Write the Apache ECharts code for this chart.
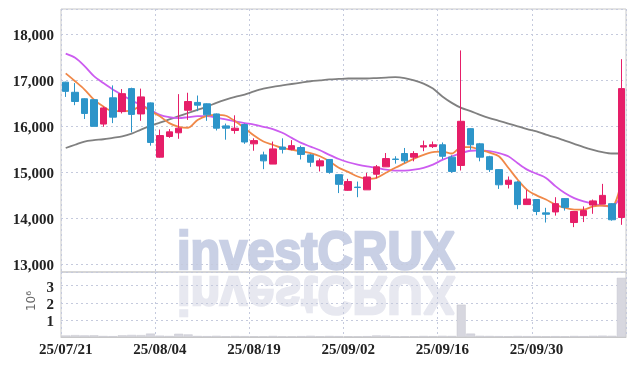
<!DOCTYPE html>
<html>
<head>
<meta charset="utf-8">
<script src="https://cdn.jsdelivr.net/npm/echarts@6/dist/echarts.min.js"></script>
<style>
  html, body { margin: 0; padding: 0; background: #fff; }
  #main { width: 634px; height: 366px; }
</style>
</head>
<body>
<div id="main"></div>
<script>
// 거래일 (일봉)
var dates = ['25/07/21','25/07/22','25/07/23','25/07/24','25/07/25','25/07/28','25/07/29','25/07/30','25/07/31','25/08/01',
  '25/08/04','25/08/05','25/08/06','25/08/07','25/08/08','25/08/11','25/08/12','25/08/13','25/08/14','25/08/18',
  '25/08/19','25/08/20','25/08/21','25/08/22','25/08/25','25/08/26','25/08/27','25/08/28','25/08/29','25/09/01',
  '25/09/02','25/09/03','25/09/04','25/09/05','25/09/08','25/09/09','25/09/10','25/09/11','25/09/12','25/09/15',
  '25/09/16','25/09/17','25/09/18','25/09/19','25/09/22','25/09/23','25/09/24','25/09/25','25/09/26','25/09/29',
  '25/09/30','25/10/01','25/10/02','25/10/10','25/10/13','25/10/14','25/10/15','25/10/16','25/10/17','25/10/20'];

var openP  = [16950,16730,16590,16570,16040,16610,16310,16810,16260,16500,15320,15770,15850,16340,16510,16480,16260,16000,15900,16030,
  15610,15370,15170,15540,15490,15530,15370,15130,15270,14940,14600,14670,14610,14950,15110,15280,15400,15320,15540,15550,
  15590,15320,15140,15940,15610,15330,15050,14730,14780,14290,14400,14110,14130,14420,13900,14050,14280,14300,14310,14010];
var closeP = [16750,16530,16270,15990,16390,16190,16700,16250,16630,15640,15790,15870,15950,16530,16450,16240,15950,15950,15950,15650,
  15680,15240,15500,15490,15570,15380,15210,15240,14990,14730,14790,14660,14890,15110,15290,15270,15240,15400,15570,15590,
  15340,15010,16100,15590,15320,15050,14720,14820,14290,14410,14140,14080,14310,14230,14140,14160,14370,14490,13960,16810];
var lowP   = [16630,16450,16150,15990,15980,16060,16270,15860,16110,15570,15310,15740,15720,16130,16320,16110,15900,15700,15830,15610,
  15460,15060,15170,15400,15470,15270,15110,15010,14960,14540,14590,14450,14610,14860,15110,15180,15190,15230,15450,15520,
  15280,14980,15030,15480,15230,15000,14630,14640,14190,14290,14060,13900,14050,14160,13800,13910,14090,14300,13940,13850];
var highP  = [16960,16930,16600,16570,16420,16880,16800,16830,16810,16510,15920,15930,16690,16720,16660,16490,16270,16050,16230,16050,
  15730,15440,15660,15730,15690,15570,15390,15290,15280,14950,14850,14790,14980,15150,15410,15340,15520,15450,15680,15660,
  15640,15360,17640,15950,15630,15350,15060,14900,14800,14610,14400,14220,14450,14430,14150,14250,14400,14740,14320,17450];

var volume = [90000,110000,95000,100000,60000,50000,100000,120000,110000,200000,80000,60000,190000,150000,60000,50000,70000,40000,60000,50000,
  40000,30000,60000,30000,30000,50000,70000,40000,60000,50000,40000,30000,50000,90000,80000,30000,40000,40000,60000,50000,
  70000,60000,1890000,200000,70000,60000,50000,40000,60000,50000,50000,40000,50000,40000,60000,50000,70000,80000,70000,3460000];

// 이동평균선
var ma5  = [17140,16970,16790,16570,16420,16320,16320,16330,16440,16320,16210,16060,15980,15960,16130,16220,16240,16220,16100,15950,
  15790,15660,15590,15520,15480,15450,15410,15340,15230,15090,15000,14900,14850,14870,14980,15090,15190,15290,15370,15430,
  15440,15400,15540,15540,15480,15420,15340,15090,14830,14610,14490,14400,14290,14220,14180,14180,14250,14270,14250,14770];
var ma20 = [17570,17480,17300,17080,16930,16790,16670,16550,16460,16350,16240,16190,16170,16190,16210,16210,16180,16140,16100,16060,
  16030,15980,15930,15850,15740,15630,15550,15470,15370,15280,15210,15160,15120,15090,15050,15030,15030,15050,15090,15160,
  15260,15340,15410,15460,15470,15450,15410,15340,15190,15050,14960,14870,14690,14540,14430,14360,14310,14270,14250,14490];
var ma60 = [15520,15590,15660,15690,15710,15740,15770,15830,15920,16000,16070,16140,16210,16280,16350,16420,16500,16570,16630,16680,
  16750,16810,16850,16880,16910,16940,16970,16990,17010,17020,17030,17030,17030,17040,17050,17060,17040,16990,16920,16810,
  16640,16500,16390,16320,16240,16170,16110,16050,15990,15930,15880,15810,15750,15680,15610,15540,15480,15430,15400,15400];

var upColor = '#e61e68';
var downColor = '#2d95c9';
var gridLine = { show: true, lineStyle: { color: '#c5cadd', type: [2, 3], width: 1 } };
var labelFont = { fontFamily: 'Liberation Sans Narrow', fontWeight: 'bold', fontSize: 15, color: '#222' };
// y축 라벨을 격자선보다 살짝 아래로
var yRich = { p: { fontFamily: 'Liberation Sans Narrow', fontWeight: 'bold', fontSize: 15, color: '#222', padding: [5, 0, 0, 0] } };

var kdata = [];
for (var i = 0; i < dates.length; i++) {
  kdata.push([openP[i], closeP[i], lowP[i], highP[i]]);
}

var chart = echarts.init(document.getElementById('main'));

var option = {
  animation: false,
  backgroundColor: '#fff',
  grid: [
    { left: 61, right: 8, top: 9, height: 263, show: true, borderColor: '#c8c8c8', borderWidth: 1 },
    { left: 61, right: 8, top: 272, height: 65, show: true, borderColor: '#c8c8c8', borderWidth: 1 }
  ],
  xAxis: [
    {
      type: 'category', gridIndex: 0, data: dates, boundaryGap: true,
      axisLine: { show: false }, axisTick: { show: false }, axisLabel: { show: false },
      splitLine: { show: true, interval: 9, lineStyle: gridLine.lineStyle }
    },
    {
      type: 'category', gridIndex: 1, data: dates, boundaryGap: true,
      axisLine: { show: true, lineStyle: { color: '#c8c8c8' } }, axisTick: { show: false },
      axisLabel: Object.assign({ interval: 9, margin: 6 }, labelFont),
      splitLine: { show: true, interval: 9, lineStyle: gridLine.lineStyle }
    }
  ],
  yAxis: [
    {
      type: 'value', gridIndex: 0, min: 12825, max: 18540, splitNumber: 5, scale: true,
      axisLine: { show: false }, axisTick: { show: false },
      axisLabel: { showMinLabel: false, showMaxLabel: false, margin: 7, rich: yRich,
        formatter: function (v) { return '{p|' + echarts.format.addCommas(v) + '}'; } },
      splitLine: gridLine
    },
    {
      type: 'value', gridIndex: 1, min: 0, max: 3800000, splitNumber: 4,
      axisLine: { show: false }, axisTick: { show: false },
      axisLabel: { showMinLabel: false, showMaxLabel: false, margin: 7, rich: yRich,
        formatter: function (v) { return '{p|' + (v / 1000000) + '}'; } },
      splitLine: gridLine
    }
  ],
  graphic: [
    // 워터마크 + 반사
    { type: 'text', x: 316, y: 281, scaleX: 0.9, z: 0, silent: true,
      style: { text: 'investCRUX', font: 'bold 54px "Liberation Sans"', fill: '#c9d0e5',
        stroke: '#c9d0e5', lineWidth: 2.5, textAlign: 'center', textVerticalAlign: 'bottom' } },
    { type: 'text', x: 316, y: 265, scaleX: 0.9, scaleY: -1, z: 0, silent: true,
      style: { text: 'investCRUX', font: 'bold 54px "Liberation Sans"', fill: '#e7e8f0',
        stroke: '#e7e8f0', lineWidth: 2.5, textAlign: 'center', textVerticalAlign: 'bottom' } },
    { type: 'text', x: 32, y: 301, rotation: Math.PI / 2, silent: true,
      style: { text: '10⁶', font: '12px "DejaVu Sans"', fill: '#666',
        textAlign: 'center', textVerticalAlign: 'middle' } }
  ],
  series: [
    {
      name: '일봉', type: 'candlestick', xAxisIndex: 0, yAxisIndex: 0, data: kdata,
      barWidth: 7, z: 5,
      itemStyle: { color: upColor, color0: downColor, borderColor: upColor, borderColor0: downColor, borderWidth: 1 }
    },
    {
      name: 'MA60', type: 'line', data: ma60, smooth: 0.3, showSymbol: false, z: 4,
      lineStyle: { color: '#808080', width: 1.8 }
    },
    {
      name: 'MA20', type: 'line', data: ma20, smooth: 0.3, showSymbol: false, z: 4,
      lineStyle: { color: '#cc5cf0', width: 1.8 }
    },
    {
      name: 'MA5', type: 'line', data: ma5, smooth: 0.3, showSymbol: false, z: 4,
      lineStyle: { color: '#f08848', width: 1.8 }
    },
    {
      name: '거래량', type: 'bar', xAxisIndex: 1, yAxisIndex: 1, data: volume,
      barCategoryGap: '5%', z: 3,
      itemStyle: { color: '#d7d7df', borderColor: '#c6c6ce', borderWidth: 0.5 }
    }
  ]
};

chart.setOption(option);
window.onresize = chart.resize;
</script>
</body>
</html>
